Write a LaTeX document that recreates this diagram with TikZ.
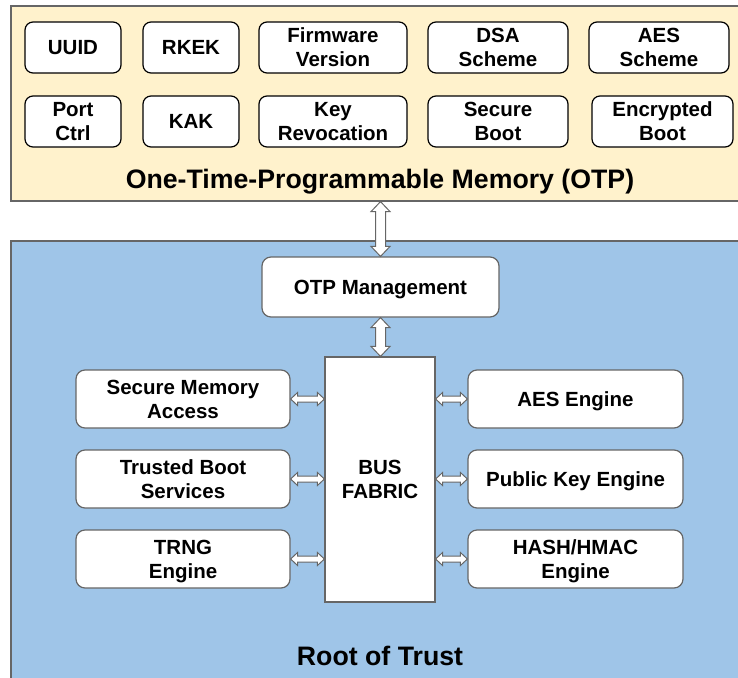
\documentclass[tikz,border=0pt]{standalone}
\usepackage{fontspec}
\setmainfont{Liberation Sans}
\usetikzlibrary{calc}
\definecolor{otpfill}{HTML}{FFF2CC}
\definecolor{rotfill}{HTML}{9FC5E8}
\definecolor{edgegray}{HTML}{666666}
\newcommand\vdbl[2]{\draw[flexarrow] let \p1=(#1), \p2=(#2) in
  (\x1,\y1) -- (\x1+9.5pt,\y1-10pt) -- (\x1+5pt,\y1-10pt) -- (\x1+5pt,\y2+10pt) -- (\x1+9.5pt,\y2+10pt)
  -- (\x1,\y2) -- (\x1-9.5pt,\y2+10pt) -- (\x1-5pt,\y2+10pt) -- (\x1-5pt,\y1-10pt) -- (\x1-9.5pt,\y1-10pt) -- cycle;}
\newcommand\hdbl[2]{\draw[flexarrow] let \p1=(#1), \p2=(#2) in
  (\x1,\y1) -- (\x1+7pt,\y1+6.5pt) -- (\x1+7pt,\y1+3pt) -- (\x2-7pt,\y1+3pt) -- (\x2-7pt,\y1+6.5pt)
  -- (\x2,\y1) -- (\x2-7pt,\y1-6.5pt) -- (\x2-7pt,\y1-3pt) -- (\x1+7pt,\y1-3pt) -- (\x1+7pt,\y1-6.5pt) -- cycle;}
\begin{document}
\begin{tikzpicture}[x=1pt,y=-1pt,
  region/.style={draw=edgegray, line width=1.2pt, rectangle, inner sep=0pt},
  boxtext/.style={align=center, font=\fontsize{20.5}{24}\selectfont\bfseries, inner sep=0pt, text depth=-3pt},
  otpbox/.style={boxtext, draw=black, line width=1.2pt, fill=white, rounded corners=8pt, minimum height=51pt},
  rotbox/.style={boxtext, draw=edgegray, line width=1.2pt, fill=white, rounded corners=9pt, minimum height=58pt},
  title/.style={font=\fontsize{26.7}{32}\selectfont\bfseries, inner sep=0pt, text depth=0pt},
  flexarrow/.style={draw=edgegray, fill=white, line width=1pt, line join=miter}
]
\clip (0,0) rectangle (738,677);
\fill[white] (0,0) rectangle (738,677);

% regions
\node[region, fill=otpfill, minimum width=734pt, minimum height=195pt] (otp) at (378,103.5) {};
\node[region, fill=rotfill, minimum width=734pt, minimum height=459pt] (rot) at (378,470.5) {};

% OTP fields
\node[otpbox, minimum width=96pt]  (uuid) at (73,47.5) {UUID};
\node[otpbox, minimum width=96pt]  (rkek) at (191,47.5) {RKEK};
\node[otpbox, minimum width=148pt] (fw)   at (333,47.5) {Firmware\\Version};
\node[otpbox, minimum width=140pt] (dsa)  at (498,47.5) {DSA\\Scheme};
\node[otpbox, minimum width=140pt] (aess) at (659,47.5) {AES\\Scheme};
\node[otpbox, minimum width=96pt]  (port) at (73,121.5) {Port\\Ctrl};
\node[otpbox, minimum width=96pt]  (kak)  at (191,121.5) {KAK};
\node[otpbox, minimum width=148pt] (krev) at (333,121.5) {Key\\Revocation};
\node[otpbox, minimum width=140pt] (sboot) at (498,121.5) {Secure\\Boot};
\node[otpbox, minimum width=141pt] (eboot) at (662.5,121.5) {Encrypted\\Boot};
\node[title] (otptitle) at (380,179) {One-Time-Programmable Memory (OTP)};

% Root of trust
\node[rotbox, minimum width=237pt, minimum height=60pt] (mgmt) at (380.5,287) {OTP Management};
\node[boxtext, draw=edgegray, line width=1.2pt, fill=white, minimum width=110pt, minimum height=245pt] (bus) at (380,479.5) {BUS\\FABRIC};
\node[rotbox, minimum width=214pt] (smem)  at (183,399) {Secure Memory\\Access};
\node[rotbox, minimum width=214pt] (tboot) at (183,479) {Trusted Boot\\Services};
\node[rotbox, minimum width=214pt] (trng)  at (183,559) {TRNG\\Engine};
\node[rotbox, minimum width=215pt] (aes)   at (575.5,399) {AES Engine};
\node[rotbox, minimum width=215pt] (pke)   at (575.5,479) {Public Key Engine};
\node[rotbox, minimum width=215pt] (hash)  at (575.5,559) {HASH/HMAC\\Engine};
\node[title] (rottitle) at (380,656) {Root of Trust};

% connectors
\vdbl{mgmt.north |- otp.south}{mgmt.north}
\vdbl{mgmt.south}{bus.north}
\hdbl{smem.east}{bus.west}
\hdbl{tboot.east}{bus.west}
\hdbl{trng.east}{bus.west}
\hdbl{bus.east |- aes.west}{aes.west}
\hdbl{bus.east |- pke.west}{pke.west}
\hdbl{bus.east |- hash.west}{hash.west}
\end{tikzpicture}
\end{document}
